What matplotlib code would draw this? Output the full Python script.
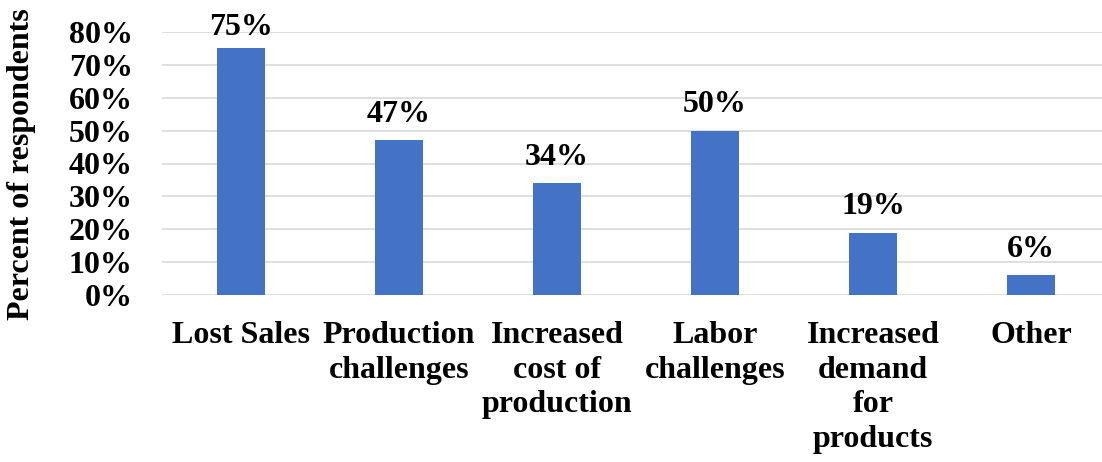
import numpy as np
import matplotlib.pyplot as plt

categories = ['Lost Sales', 'Production\nchallenges', 'Increased\ncost of\nproduction',
              'Labor\nchallenges', 'Increased\ndemand\nfor\nproducts', 'Other']
values = [75, 47, 34, 50, 19, 6]
yticks = [0, 10, 20, 30, 40, 50, 60, 70, 80]

plt.rcParams['font.family'] = ['Liberation Serif', 'DejaVu Serif']
plt.rcParams['font.weight'] = 'bold'

fig = plt.figure(figsize=(11.02, 4.62), dpi=100)
ax = fig.add_axes([162 / 1102, (462 - 295) / 462, 948 / 1102, 263 / 462])

x = np.arange(len(categories))
bars = ax.bar(x, values, width=0.31, color='#4472C4', zorder=3)
for b, v in zip(bars, values):
    # label baseline sits a bit above the bar, kept inside the plot area
    ax.text(b.get_x() + b.get_width() / 2, min(v + 5.6, 79), f'{v}%',
            ha='center', va='baseline', fontsize=23, fontweight='bold')

ax.set_xlim(-0.5, len(categories) - 0.5)
ax.set_ylim(0, 80)
ax.set_yticks(yticks)
ax.set_yticklabels([f'{t}%' for t in yticks])
ax.set_xticks(x)
ax.set_xticklabels(categories, linespacing=1.25)
ax.tick_params(axis='y', length=0, pad=21, labelsize=23)
ax.tick_params(axis='x', length=0, pad=19, labelsize=23)
ax.yaxis.grid(True, color='#D9D9D9', linewidth=1.2, zorder=0)
for s in ax.spines.values():
    s.set_visible(False)

fig.text(22 / 1102, (462 - 164) / 462, 'Percent of respondents', rotation=90,
         ha='center', va='center', fontsize=23, fontweight='bold')

plt.savefig('out.png', dpi=100)
